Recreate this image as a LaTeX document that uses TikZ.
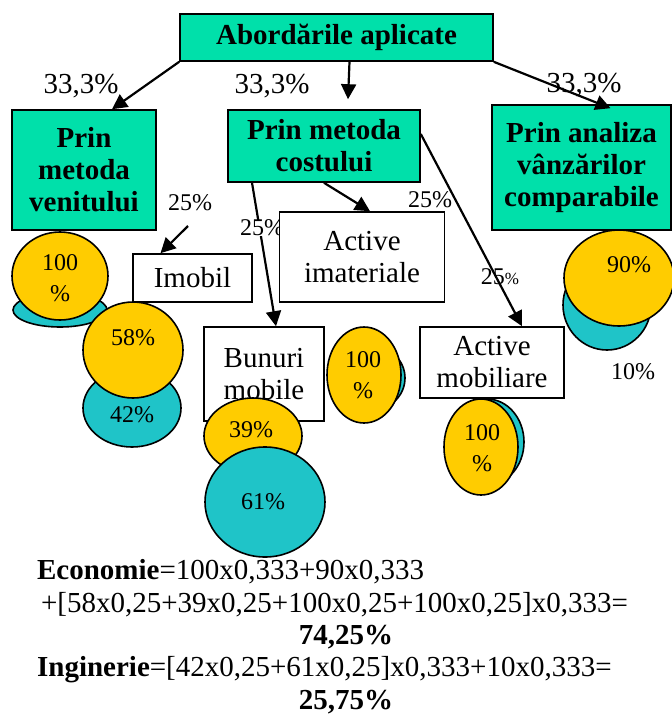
\documentclass[tikz,border=0pt]{standalone}
\usepackage{fontspec}
\setmainfont{Liberation Serif}
\usetikzlibrary{arrows.meta,positioning,shapes.geometric}
\definecolor{boxgreen}{RGB}{0,224,170}
\definecolor{piegold}{RGB}{255,204,0}
\definecolor{pieteal}{RGB}{31,196,200}
\tikzset{
    >={Triangle[length=15pt,width=15pt]},
    every picture/.style={line width=2.2pt},
    method/.style={draw,fill=boxgreen,line width=1.6pt,align=center,inner sep=0pt,font=\fontsize{29}{32}\selectfont\bfseries},
    asset/.style={draw,fill=white,line width=1.6pt,align=center,inner sep=0pt,font=\fontsize{29}{32}\selectfont},
    share/.style={ellipse,draw,line width=1.6pt,inner sep=0pt},
    goldpie/.style={share,fill=piegold},
    tealpie/.style={share,fill=pieteal},
    pct/.style={font=\fontsize{24}{31}\selectfont,align=center,inner sep=0pt},
    big/.style={font=\fontsize{29}{32}\selectfont,inner sep=0pt}
}

\begin{document}
\begin{tikzpicture}[x=1pt,y=-1pt]
    \useasboundingbox (0,0) rectangle (672,718);
    \node[method,minimum width=313,minimum height=47] (top) at (336.5,37.5) {Abordările aplicate};
    \node[method,minimum width=144,minimum height=120] (ven) at (84,170) {Prin\\metoda\\venitului};
    \node[method,minimum width=192,minimum height=72] (cost) at (324,146) {Prin metoda\\costului};
    \node[method,minimum width=179,minimum height=125] (comp) at (581.5,167.5) {Prin analiza\\vânzărilor\\comparabile};
    \node[big] (w1) at (81,86) {33,3\%};
    \node[big] (w2) at (272,86) {33,3\%};
    \node[big] (w3) at (584,85) {33,3\%};
    \draw[->] (top.south west) -- ([xshift=28]ven.north);
    \draw[->] ([xshift=13]top.south) -- ([xshift=24,yshift=10]cost.north);
    \draw[->] (top.south east) -- ([xshift=29,yshift=-4]comp.north);
    \coordinate (imobtail) at (188,226);
    \node[pct] (p1) at (190,203) {25\%};
    \node[asset,minimum width=119,minimum height=48] (imob) at (192.5,278) {Imobil};
    \draw[->] (imobtail) -- ([xshift=-32]imob.north);
    \node[asset,minimum width=120,minimum height=94] (bun) at (264,374) {Bunuri\\mobile};
    \node[asset,minimum width=144,minimum height=71] (mob) at (492,362.5) {Active\\mobiliare};
    \draw[->] ([xshift=-72]cost.south) -- ([xshift=12]bun.north);
    \draw[->] ([yshift=12]cost.east) -- ([xshift=30]mob.north);
    \node[pct,fill=white] (p2) at (262,228) {25\%};
    \node[asset,minimum width=165,minimum height=90] (imat) at (362,257) {Active\\imateriale};
    \draw[->] (cost.south) -- ([xshift=8]imat.north);
    \node[pct] (p3) at (430,200) {25\%};
    \node[pct] (p4) at (500,277) {25{\fontsize{17}{17}\selectfont\%}};
    % venitului
    \node[tealpie,minimum width=94,minimum height=34] (vt) at (60,310) {};
    \node[goldpie,minimum width=96,minimum height=88] (vg) at (60,276) {};
    \node[pct] (vgl) at (60,278) {100\\\%};
    % imobil
    \node[tealpie,minimum width=98,minimum height=78] (it) at (132,408) {};
    \node[goldpie,minimum width=100,minimum height=96] (ig) at (133,350) {};
    \node[pct] (igl) at (133,338) {58\%};
    \node[pct] (itl) at (132,415) {42\%};
    % bunuri mobile
    \node[goldpie,minimum width=98,minimum height=76] (bg) at (253,436) {};
    \node[tealpie,minimum width=120,minimum height=110] (bt) at (265,502) {};
    \node[pct] (bgl) at (251,430) {39\%};
    \node[pct] (btl) at (263,502) {61\%};
    % active imateriale
    \node[tealpie,minimum width=66,minimum height=64] (at) at (372,378) {};
    \node[goldpie,minimum width=74,minimum height=96] (ag) at (364,375) {};
    \node[pct] (agl) at (363,375) {100\\\%};
    % active mobiliare
    \node[tealpie,minimum width=74,minimum height=86] (mt) at (487,442) {};
    \node[goldpie,minimum width=74,minimum height=96] (mg) at (481,447) {};
    \node[pct] (mgl) at (482,448) {100\\\%};
    % comparabile
    \node[tealpie,minimum width=88,minimum height=90] (ct) at (607,305) {};
    \node[goldpie,minimum width=110,minimum height=96] (cg) at (619,278) {};
    \node[pct] (cgl) at (629,265) {90\%};
    \node[pct] (ctl) at (633,372) {10\%};
    % rezultat
    \node[big,anchor=west] (eco1) at (36,572) {\textbf{Economie}=100x0,333+90x0,333};
    \node[big,anchor=west] (eco2) at (40,605) {+[58x0,25+39x0,25+100x0,25+100x0,25]x0,333=};
    \node[big] (eco3) at (346,637) {\textbf{74,25\%}};
    \node[big,anchor=west] (ing1) at (36,670) {\textbf{Inginerie}=[42x0,25+61x0,25]x0,333+10x0,333=};
    \node[big] (ing2) at (346,702) {\textbf{25,75\%}};
\end{tikzpicture}
\end{document}
